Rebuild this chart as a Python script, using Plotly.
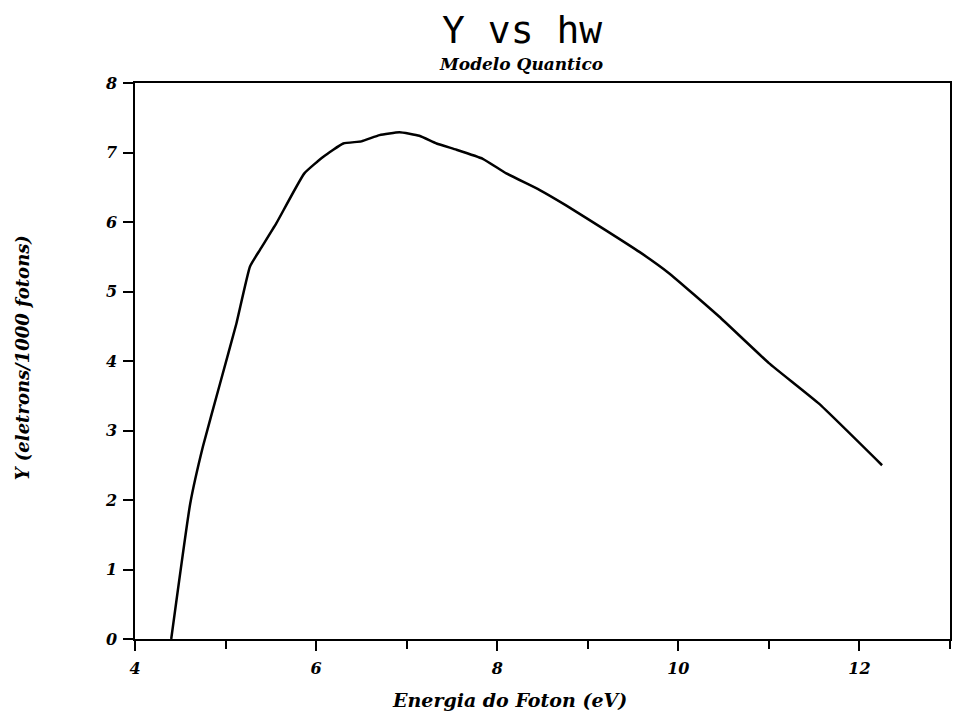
import plotly.graph_objects as go

# Data
energy_ev = [4.40, 4.61, 4.75, 4.94, 5.12, 5.27, 5.38, 5.56, 5.87, 6.08, 6.30, 6.50,
             6.70, 6.92, 7.14, 7.33, 7.55, 7.84, 8.10, 8.47, 8.76, 9.20, 9.57, 9.90,
             10.45, 11.00, 11.55, 12.25]
yield_y = [0.00, 1.95, 2.77, 3.68, 4.54, 5.36, 5.60, 5.98, 6.70, 6.94, 7.13, 7.16,
           7.25, 7.29, 7.24, 7.13, 7.04, 6.91, 6.70, 6.46, 6.24, 5.88, 5.57, 5.26,
           4.64, 3.97, 3.39, 2.50]

x_ticks = [4, 6, 8, 10, 12]
y_ticks = [0, 1, 2, 3, 4, 5, 6, 7, 8]

title_text = "Y vs hw"
subtitle_text = "Modelo Quantico"
x_label = "Energia do Foton (eV)"
y_label = "Y (eletrons/1000 fotons)"

tick_font = dict(family="DejaVu Serif", size=16, color="black", style="italic", weight="bold")

fig = go.Figure()
fig.add_trace(go.Scatter(x=energy_ev, y=yield_y, mode="lines",
                         line=dict(color="black", width=2.5, shape="spline", smoothing=0.4),
                         showlegend=False))

fig.update_layout(
    width=957, height=719,
    margin=dict(l=135, r=5, t=83, b=80),
    paper_bgcolor="white", plot_bgcolor="white",
    showlegend=False,
)

fig.update_xaxes(
    range=[4, 13], tickvals=x_ticks, ticktext=[str(v) for v in x_ticks],
    ticks="outside", ticklen=10, tickwidth=1.5, tickcolor="black",
    minor=dict(dtick=1, tick0=4, ticks="outside", ticklen=8, tickwidth=1.5, tickcolor="black"),
    showline=True, linecolor="black", linewidth=1.5, mirror=True,
    showgrid=False, zeroline=False, tickfont=tick_font, ticklabelstandoff=4,
)
fig.update_yaxes(
    range=[0, 8], tickvals=y_ticks, ticktext=[str(v) for v in y_ticks],
    ticks="outside", ticklen=10, tickwidth=1.5, tickcolor="black",
    showline=True, linecolor="black", linewidth=1.5, mirror=True,
    showgrid=False, zeroline=False, tickfont=tick_font, ticklabelstandoff=3,
)

fig.add_annotation(text=title_text, xref="paper", yref="paper", x=(523 - 135) / 817, y=1 + (83 - 30) / 556,
                   showarrow=False, xanchor="center", yanchor="middle",
                   font=dict(family="DejaVu Sans Mono", size=38, color="black"))
fig.add_annotation(text=subtitle_text, xref="paper", yref="paper", x=(522 - 135) / 817, y=1 + (83 - 64) / 556,
                   showarrow=False, xanchor="center", yanchor="middle",
                   font=dict(family="DejaVu Serif", size=17, color="black", style="italic", weight="bold"))
fig.add_annotation(text=x_label, xref="paper", yref="paper", x=(510 - 135) / 817, y=-(700 - 639) / 556,
                   showarrow=False, xanchor="center", yanchor="middle",
                   font=dict(family="DejaVu Serif", size=19, color="black", style="italic", weight="bold"))
fig.add_annotation(text=y_label, xref="paper", yref="paper", x=-(135 - 22) / 817, y=(639 - 358) / 556,
                   showarrow=False, xanchor="center", yanchor="middle", textangle=-90,
                   font=dict(family="DejaVu Serif", size=18, color="black", style="italic", weight="bold"))

fig.write_html("out.html")
